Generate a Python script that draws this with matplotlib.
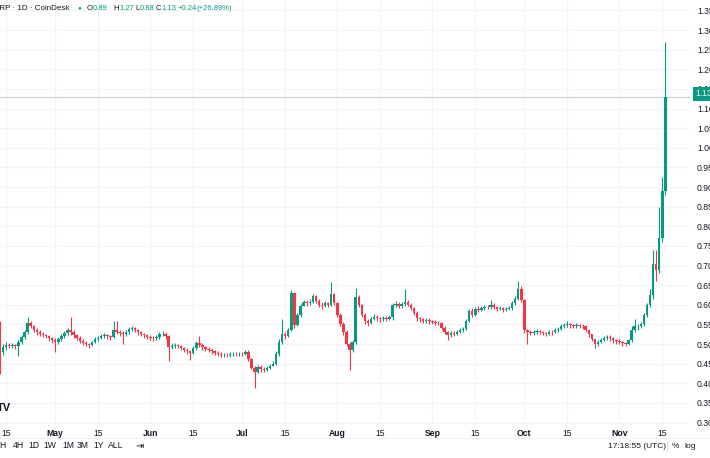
import pandas as pd
import numpy as np
import matplotlib
matplotlib.use("Agg")
import matplotlib.pyplot as plt
import matplotlib.dates as mdates
from matplotlib.lines import Line2D

plt.rcParams['font.family'] = ['Liberation Sans', 'DejaVu Sans']

W, H = 710, 458
UP = "#089981"
DOWN = "#f23645"
TEXT = "#131722"
GRID = "#f0f3fa"

# daily XRP candles, 2024-04-13 .. 2024-11-16 (open = previous close)
first_open = 0.555

apr_close = [0.480, 0.492, 0.498, 0.495, 0.497, 0.494, 0.505, 0.518, 0.530, 0.553, 0.545, 0.537, 0.530, 0.525, 0.523, 0.520, 0.515, 0.510]
apr_high = [0.560, 0.500, 0.505, 0.503, 0.502, 0.500, 0.510, 0.522, 0.535, 0.570, 0.558, 0.548, 0.540, 0.535, 0.530, 0.527, 0.524, 0.518]
apr_low = [0.425, 0.472, 0.486, 0.489, 0.490, 0.487, 0.470, 0.500, 0.513, 0.526, 0.540, 0.532, 0.524, 0.520, 0.517, 0.515, 0.509, 0.503]

may_close = [0.505, 0.512, 0.520, 0.528, 0.535, 0.530, 0.522, 0.515, 0.508, 0.503, 0.500, 0.498, 0.505, 0.512, 0.515, 0.520,
             0.522, 0.520, 0.518, 0.535, 0.530, 0.528, 0.525, 0.530, 0.538, 0.540, 0.535, 0.530, 0.525, 0.522, 0.518]
may_high = [0.515, 0.517, 0.525, 0.533, 0.540, 0.570, 0.535, 0.526, 0.520, 0.512, 0.507, 0.504, 0.509, 0.517, 0.520, 0.525,
            0.528, 0.526, 0.524, 0.558, 0.560, 0.536, 0.533, 0.535, 0.543, 0.546, 0.543, 0.538, 0.533, 0.529, 0.525]
may_low = [0.480, 0.500, 0.507, 0.515, 0.523, 0.523, 0.516, 0.510, 0.502, 0.497, 0.494, 0.490, 0.495, 0.502, 0.508, 0.512,
           0.515, 0.514, 0.511, 0.515, 0.525, 0.520, 0.500, 0.521, 0.526, 0.533, 0.530, 0.524, 0.520, 0.516, 0.512]

jun_close = [0.516, 0.515, 0.518, 0.525, 0.527, 0.520, 0.492, 0.496, 0.497, 0.495, 0.490, 0.485, 0.482, 0.478, 0.490,
             0.503, 0.498, 0.492, 0.488, 0.485, 0.482, 0.478, 0.475, 0.472, 0.473, 0.471, 0.474, 0.475, 0.474, 0.476]
jun_high = [0.522, 0.520, 0.522, 0.530, 0.533, 0.530, 0.524, 0.502, 0.502, 0.501, 0.498, 0.493, 0.489, 0.486, 0.494,
            0.507, 0.520, 0.502, 0.496, 0.492, 0.489, 0.486, 0.482, 0.479, 0.478, 0.477, 0.479, 0.480, 0.479, 0.481]
jun_low = [0.510, 0.509, 0.511, 0.514, 0.520, 0.514, 0.458, 0.487, 0.490, 0.489, 0.484, 0.479, 0.476, 0.460, 0.474,
           0.486, 0.492, 0.486, 0.482, 0.479, 0.476, 0.472, 0.469, 0.466, 0.467, 0.466, 0.467, 0.469, 0.469, 0.470]

jul_close = [0.474, 0.481, 0.462, 0.440, 0.430, 0.442, 0.437, 0.435, 0.440, 0.445, 0.450, 0.476, 0.505, 0.527, 0.520, 0.535,
             0.630, 0.548, 0.575, 0.598, 0.606, 0.604, 0.608, 0.622, 0.610, 0.600, 0.598, 0.604, 0.600, 0.628, 0.605]
jul_high = [0.480, 0.486, 0.484, 0.464, 0.445, 0.448, 0.446, 0.441, 0.445, 0.450, 0.456, 0.482, 0.512, 0.565, 0.532, 0.542,
            0.637, 0.632, 0.580, 0.603, 0.612, 0.612, 0.615, 0.628, 0.625, 0.614, 0.606, 0.610, 0.608, 0.657, 0.630]
jul_low = [0.469, 0.472, 0.458, 0.436, 0.387, 0.426, 0.430, 0.429, 0.432, 0.437, 0.443, 0.447, 0.470, 0.500, 0.512, 0.517,
           0.533, 0.540, 0.545, 0.570, 0.597, 0.597, 0.600, 0.605, 0.605, 0.594, 0.590, 0.594, 0.594, 0.598, 0.600]

aug_close = [0.575, 0.550, 0.530, 0.500, 0.485, 0.505, 0.620, 0.600, 0.575, 0.560, 0.553, 0.565, 0.570, 0.566, 0.563, 0.567,
             0.565, 0.568, 0.600, 0.602, 0.598, 0.603, 0.608, 0.600, 0.592, 0.580, 0.566, 0.563, 0.560, 0.562, 0.558]
aug_high = [0.608, 0.580, 0.556, 0.535, 0.505, 0.510, 0.642, 0.624, 0.603, 0.580, 0.565, 0.570, 0.576, 0.574, 0.570, 0.572,
            0.572, 0.574, 0.604, 0.610, 0.606, 0.608, 0.640, 0.612, 0.604, 0.594, 0.584, 0.570, 0.567, 0.567, 0.566]
aug_low = [0.570, 0.545, 0.524, 0.495, 0.433, 0.480, 0.500, 0.594, 0.570, 0.552, 0.545, 0.550, 0.561, 0.560, 0.557, 0.560,
           0.560, 0.561, 0.562, 0.594, 0.592, 0.593, 0.598, 0.596, 0.587, 0.575, 0.560, 0.556, 0.554, 0.555, 0.552]

sep_close = [0.556, 0.555, 0.553, 0.540, 0.530, 0.522, 0.528, 0.527, 0.532, 0.535, 0.538, 0.560, 0.585, 0.575, 0.590,
             0.588, 0.592, 0.595, 0.594, 0.600, 0.595, 0.590, 0.592, 0.588, 0.590, 0.592, 0.605, 0.616, 0.640, 0.612]
sep_high = [0.562, 0.561, 0.560, 0.556, 0.545, 0.534, 0.533, 0.533, 0.537, 0.540, 0.543, 0.565, 0.590, 0.592, 0.595,
            0.596, 0.598, 0.600, 0.600, 0.612, 0.604, 0.598, 0.597, 0.595, 0.595, 0.597, 0.610, 0.622, 0.662, 0.648]
sep_low = [0.550, 0.549, 0.548, 0.535, 0.525, 0.510, 0.518, 0.521, 0.524, 0.529, 0.531, 0.535, 0.556, 0.570, 0.572,
           0.583, 0.585, 0.588, 0.589, 0.590, 0.590, 0.584, 0.586, 0.583, 0.584, 0.586, 0.588, 0.600, 0.612, 0.606]

oct_close = [0.535, 0.530, 0.528, 0.530, 0.533, 0.530, 0.528, 0.527, 0.532, 0.530, 0.535, 0.538, 0.545, 0.548, 0.550, 0.548,
             0.546, 0.548, 0.547, 0.545, 0.535, 0.525, 0.512, 0.500, 0.505, 0.510, 0.515, 0.518, 0.515, 0.510, 0.507]
oct_high = [0.615, 0.538, 0.535, 0.535, 0.538, 0.536, 0.534, 0.532, 0.537, 0.536, 0.540, 0.543, 0.550, 0.553, 0.560, 0.554,
            0.551, 0.553, 0.552, 0.550, 0.548, 0.538, 0.527, 0.514, 0.510, 0.515, 0.520, 0.523, 0.522, 0.518, 0.514]
oct_low = [0.528, 0.500, 0.522, 0.523, 0.526, 0.525, 0.522, 0.521, 0.524, 0.524, 0.528, 0.531, 0.535, 0.541, 0.543, 0.542,
           0.540, 0.541, 0.541, 0.539, 0.530, 0.519, 0.507, 0.490, 0.496, 0.502, 0.507, 0.511, 0.509, 0.504, 0.501]

nov_close = [0.505, 0.502, 0.500, 0.510, 0.535, 0.545, 0.545, 0.550, 0.575, 0.600, 0.625, 0.705, 0.690, 0.770, 0.890, 1.130]
nov_high = [0.512, 0.508, 0.506, 0.514, 0.545, 0.565, 0.552, 0.556, 0.580, 0.605, 0.640, 0.740, 0.740, 0.850, 0.925, 1.270]
nov_low = [0.499, 0.496, 0.494, 0.498, 0.505, 0.530, 0.537, 0.540, 0.546, 0.570, 0.595, 0.615, 0.660, 0.680, 0.760, 0.880]

closes = apr_close + may_close + jun_close + jul_close + aug_close + sep_close + oct_close + nov_close
highs = apr_high + may_high + jun_high + jul_high + aug_high + sep_high + oct_high + nov_high
lows = apr_low + may_low + jun_low + jul_low + aug_low + sep_low + oct_low + nov_low
opens = [first_open] + closes[:-1]
dates = pd.date_range("2024-04-13", periods=len(closes), freq="D")

last_price = 1.13
price_ticks = [0.30, 0.35, 0.40, 0.45, 0.50, 0.55, 0.60, 0.65, 0.70, 0.75, 0.80, 0.85,
               0.90, 0.95, 1.00, 1.05, 1.10, 1.15, 1.20, 1.25, 1.30, 1.35]
time_ticks = ["2024-04-15", "2024-05-01", "2024-05-15", "2024-06-01", "2024-06-15", "2024-07-01", "2024-07-15",
              "2024-08-01", "2024-08-15", "2024-09-01", "2024-09-15", "2024-10-01", "2024-10-15", "2024-11-01",
              "2024-11-15"]
time_labels = ["15", "May", "15", "Jun", "15", "Jul", "15", "Aug", "15", "Sep", "15", "Oct", "15", "Nov", "15"]

fig = plt.figure(figsize=(W / 100, H / 100), dpi=100)
ax = fig.add_axes([0, 34 / H, 690 / W, 424 / H])

x = mdates.date2num(dates)
o = np.array(opens)
c = np.array(closes)
colors = [UP if cc >= oo else DOWN for oo, cc in zip(o, c)]
ax.vlines(x, lows, highs, colors=colors, linewidth=0.8, zorder=2)
ax.bar(x, c - o, bottom=o, width=0.8, color=colors, linewidth=0, zorder=3)

ax.axhline(last_price, color="#c9ccd3", linewidth=0.8, zorder=1)

x0 = mdates.date2num(pd.Timestamp("2024-04-13")) - 0.02
ax.set_xlim(x0, x0 + 690 / 3.066)
ax.set_ylim(0.2965, 1.3765)

ax.set_xticks(mdates.date2num(pd.to_datetime(time_ticks)))
ax.set_xticklabels(time_labels)
for lab in ax.get_xticklabels():
    if not lab.get_text().isdigit():
        lab.set_fontweight("bold")
ax.tick_params(axis="x", length=0, pad=3.5, labelsize=6.2, labelcolor=TEXT)

ax.yaxis.tick_right()
ax.set_yticks(price_ticks)
ax.set_yticklabels([f"{p:.2f}" for p in price_ticks])
ax.tick_params(axis="y", length=0, pad=5, labelsize=6.2, labelcolor=TEXT)

ax.grid(True, color=GRID, linewidth=0.9)
ax.set_axisbelow(True)
for s in ax.spines.values():
    s.set_visible(False)


def px(xp, yp):
    return xp / W, 1 - yp / H


# last price tag on the price scale
fig.text(*px(695, 94), "1.13", color="white", fontsize=6.2, va="center", ha="left",
         bbox=dict(facecolor=UP, edgecolor="none", pad=1.6))

# header
hy = 8
fig.text(*px(-6, hy), "XRP · 1D · CoinDesk", fontsize=5.8, color=TEXT, va="center")
fig.text(*px(77, hy), "●", fontsize=4.5, color=UP, va="center")
parts = [(87, "O", TEXT), (93, "0.89", UP), (113, "H", TEXT), (119, "1.27", UP), (135, "L", TEXT),
         (140, "0.88", UP), (156, "C", TEXT), (161.5, "1.13", UP), (178, "+0.24", UP), (196, "(+26.89%)", UP)]
for xp, t, col in parts:
    fig.text(*px(xp, hy), t, fontsize=5.5, color=col, va="center")

# TradingView logo (cut at the left edge)
fig.text(*px(-3, 408), "TV", fontsize=8, fontweight="bold", color=TEXT, va="center")

# bottom toolbar
fig.add_artist(Line2D([0, 1], [1 - 438 / H] * 2, color="#eceef2", linewidth=0.6))
ty = 446
for xp, t in [(-1, "H"), (13, "4H"), (28, "1D"), (43, "1W"), (62, "1M"), (77, "3M"), (93, "1Y"), (108, "ALL")]:
    fig.text(*px(xp, ty), t, fontsize=6.2, color=TEXT, va="center")
fig.text(*px(135, ty), "⇥", fontsize=7, color=TEXT, va="center")
fig.text(*px(608, ty), "17:18:55 (UTC)", fontsize=6, color=TEXT, va="center")
fig.add_artist(Line2D([667 / W] * 2, [1 - 441 / H, 1 - 451 / H], color="#e0e3eb", linewidth=0.8))
fig.text(*px(672, ty), "%", fontsize=6, color=TEXT, va="center")
fig.text(*px(684, ty), "log", fontsize=6, color=TEXT, va="center")

fig.savefig("out.png", dpi=100)
